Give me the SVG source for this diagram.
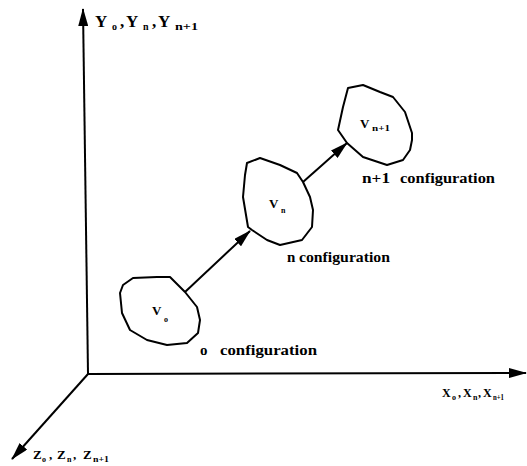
<svg xmlns="http://www.w3.org/2000/svg" width="527" height="466" viewBox="0 0 527 466">
  <style>
    .ax { stroke: #000; stroke-width: 2; fill: none; }
    .blob { stroke: #000; stroke-width: 2; fill: #fff; stroke-linejoin: round; }
    .t { font-family: "Liberation Serif", "Times New Roman", serif; font-weight: bold; fill: #000; }
    .cfg { font-size: 15px; }
    .sub { font-size: 8px; }
  </style>
  <defs>
    <marker id="ah" viewBox="0 0 18 10" refX="17" refY="5" markerWidth="18" markerHeight="10" markerUnits="userSpaceOnUse" orient="auto">
      <path d="M0,0 L18,5 L0,10 z" fill="#000"/>
    </marker>
  </defs>
  <rect width="527" height="466" fill="#fff"/>

  <g id="axes">
    <line class="ax" x1="88" y1="374" x2="83" y2="9" marker-end="url(#ah)"/>
    <line class="ax" x1="88" y1="374" x2="526" y2="373" marker-end="url(#ah)"/>
    <line class="ax" x1="88" y1="374" x2="12" y2="459" marker-end="url(#ah)"/>
    <text class="t" x="95" y="27" font-size="17">Y<tspan x="112" y="30" font-size="10">o</tspan><tspan x="120" y="27">,</tspan><tspan x="126" y="27">Y</tspan><tspan x="143" y="30" font-size="10">n</tspan><tspan x="152" y="27">,</tspan><tspan x="158" y="27">Y</tspan><tspan x="175" y="30" font-size="10" textLength="23" lengthAdjust="spacingAndGlyphs">n+1</tspan></text>
    <text class="t" x="442" y="397" font-size="12">X<tspan x="452" y="400" class="sub">o</tspan><tspan x="458" y="397">,</tspan><tspan x="463" y="397">X</tspan><tspan x="473" y="400" class="sub">n</tspan><tspan x="478" y="397">,</tspan><tspan x="483" y="397">X</tspan><tspan x="493" y="400" class="sub" textLength="11" lengthAdjust="spacingAndGlyphs">n+1</tspan></text>
    <text class="t" x="33" y="459" font-size="13">Z<tspan x="42" y="462" class="sub">o</tspan><tspan x="49" y="459">,</tspan><tspan x="57" y="459">Z</tspan><tspan x="67" y="462" class="sub">n</tspan><tspan x="73" y="459">,</tspan><tspan x="83" y="459">Z</tspan><tspan x="93" y="462" class="sub" textLength="16" lengthAdjust="spacingAndGlyphs">n+1</tspan></text>
  </g>

  <g id="connectors">
    <line class="ax" x1="185" y1="292" x2="250" y2="231" marker-end="url(#ah)"/>
    <line class="ax" x1="303" y1="182" x2="347" y2="143" marker-end="url(#ah)"/>
  </g>

  <g id="node-vo">
    <polygon class="blob" points="133,278 157,277 170,277 185,292 197,307 200,320 198,333 187,343 167,345 147,340 130,330 122,313 120,293 123,285"/>
    <text class="t" x="152" y="315" font-size="13">V<tspan x="164" y="322" class="sub">o</tspan></text>
    <text class="t cfg" x="200" y="355">o<tspan x="220" textLength="97" lengthAdjust="spacingAndGlyphs">configuration</tspan></text>
  </g>

  <g id="node-vn">
    <polygon class="blob" points="260,158 280,165 297,173 303,182 310,197 313,210 312,227 302,240 280,245 267,240 252,230 248,227 243,197 245,175 247,163"/>
    <text class="t" x="269" y="208" font-size="13">V<tspan x="281" y="213" class="sub">n</tspan></text>
    <text class="t cfg" x="287" y="262">n<tspan x="299" textLength="91" lengthAdjust="spacingAndGlyphs">configuration</tspan></text>
  </g>

  <g id="node-vn1">
    <polygon class="blob" points="363,85 380,92 393,97 405,112 412,133 412,140 410,150 403,160 387,165 363,157 347,143 338,130 343,107 348,88"/>
    <text class="t" x="360" y="128" font-size="13">V<tspan x="372" y="131" class="sub" textLength="18" lengthAdjust="spacingAndGlyphs">n+1</tspan></text>
    <text class="t cfg" x="362" y="183"><tspan textLength="28" lengthAdjust="spacingAndGlyphs">n+1</tspan><tspan x="400" textLength="95" lengthAdjust="spacingAndGlyphs">configuration</tspan></text>
  </g>
</svg>
